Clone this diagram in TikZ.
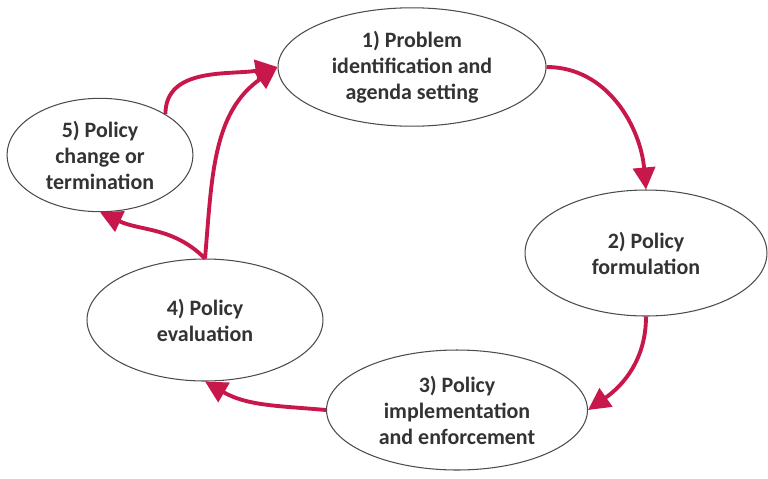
\documentclass[tikz,border=0pt]{standalone}
\usepackage{fontspec}
\setmainfont{Carlito}
\usetikzlibrary{arrows.meta, shapes.geometric}
\definecolor{arrowred}{HTML}{C8174A}
\definecolor{textgray}{HTML}{333333}
\begin{document}
\begin{tikzpicture}[x=0.02cm, y=-0.02cm,
    every node/.style={draw=black!70, ellipse, line width=0.6pt, align=center,
      text=textgray, font=\bfseries\fontsize{12.5}{14.8}\selectfont},
    >={Triangle[length=0.44cm, width=0.44cm]}, line width=2.2pt % thick red edges
    ]
    \useasboundingbox (0,0) rectangle (768,478);

    % Define nodes
    \node[minimum width=5.36cm, minimum height=2.32cm] (P) at (412,67) {1) Problem\\identification and\\agenda setting};
    \node[minimum width=4.84cm, minimum height=2.52cm] (F) at (646,253) {2) Policy\\formulation};
    \node[minimum width=5.22cm, minimum height=2.40cm] (I) at (457,410) {3) Policy\\implementation\\and enforcement};
    \node[minimum width=4.72cm, minimum height=2.44cm] (E) at (205,320) {4) Policy\\evaluation};
    \node[minimum width=3.72cm, minimum height=2.00cm] (T) at (100,155) {5) Policy\\change or\\termination};

    % Draw directed edges
    \draw[->, arrowred] (P.east) to[out=0, in=95] (F.north);
    \draw[->, arrowred] (F.south) to[out=-90, in=35] (I.east);
    \draw[->, arrowred] (I.west) to[out=175, in=-30] (E.south);
    \draw[->, arrowred] (E.north) to[out=85, in=215] (P.west);
    \draw[->, arrowred] (E.north) to[out=135, in=-25] (T.south);
    \draw[->, arrowred] (T.32) to[out=90, in=190] (P.west);

\end{tikzpicture}
\end{document}
